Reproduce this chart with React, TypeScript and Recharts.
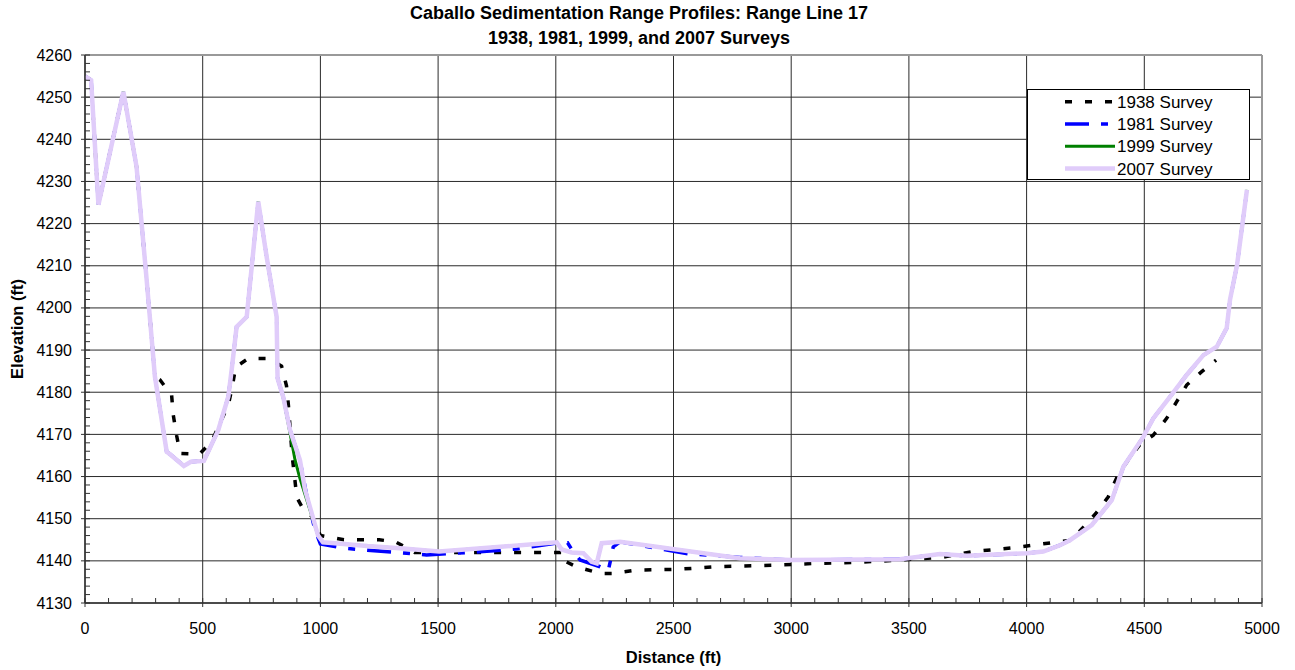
import { LineChart, Line, XAxis, YAxis, CartesianGrid, ReferenceLine, Legend } from "recharts"

// Range line 17 survey profiles: distance (ft) / elevation (ft)
const dist1938 = [0, 26, 57, 163, 219, 262, 297, 319, 368, 375, 389, 404, 486, 538, 609, 627, 640, 694, 779, 835, 856, 864, 880, 900, 925, 965, 1000, 1100, 1250, 1320, 1400, 2030, 2036, 2088, 2188, 2244, 2343, 2520, 2683, 2938, 3108, 3264, 3434, 3519, 3646, 3774, 3944, 4106, 4191, 4295, 4347, 4382, 4420, 4480, 4538, 4595, 4637, 4680, 4744, 4805]
const elev1938 = [4255, 4254, 4224.5, 4251.3, 4233.5, 4206.6, 4183.7, 4182.9, 4179.3, 4174.6, 4169.8, 4165.5, 4165.3, 4168.3, 4177, 4181.7, 4186, 4188, 4188, 4186.2, 4181.5, 4177, 4165, 4155, 4152.5, 4150.5, 4146, 4145, 4145, 4144.5, 4142, 4142, 4140, 4138.6, 4137, 4137, 4137.8, 4138, 4138.6, 4139, 4139.4, 4139.6, 4140.1, 4140.4, 4140.9, 4142.2, 4143.1, 4144.3, 4144.9, 4151.3, 4155.2, 4159.6, 4163, 4167.5, 4169.8, 4173.8, 4177.7, 4181.7, 4184.9, 4187.6]

const dist1981 = [0, 26, 57, 163, 219, 262, 297, 347, 361, 420, 450, 505, 566, 609, 623, 644, 687, 736, 772, 814, 818, 842, 871, 913, 940, 977, 1000, 1100, 1200, 1366, 1451, 1572, 1692, 1834, 2004, 2050, 2070, 2103, 2188, 2223, 2232, 2244, 2273, 2570, 2642, 2782, 3000, 3462, 3632, 3745, 4000, 4071, 4142, 4184, 4277, 4362, 4411, 4496, 4538, 4609, 4680, 4751, 4808, 4850, 4864, 4894, 4936]
const elev1981 = [4255, 4254, 4224.5, 4251.3, 4233.5, 4206.6, 4183.7, 4165.9, 4165.3, 4162.5, 4163.5, 4163.7, 4171, 4179, 4185.3, 4195.5, 4197.9, 4225.2, 4212, 4197.9, 4183.3, 4178.9, 4171, 4163.9, 4156, 4147.3, 4144, 4143, 4142.5, 4141.8, 4141.4, 4141.8, 4142.2, 4142.8, 4144.2, 4144.3, 4142.5, 4140.2, 4138.6, 4137.7, 4140, 4143.3, 4144.5, 4141.6, 4141.4, 4140.8, 4140.2, 4140.4, 4141.6, 4141.2, 4141.8, 4142.2, 4143.7, 4144.9, 4148.5, 4154.4, 4162.3, 4169.4, 4173.8, 4178.9, 4184.1, 4188.8, 4190.8, 4195.2, 4201.9, 4210.2, 4228]

const dist1999 = [0, 26, 57, 163, 219, 262, 297, 347, 361, 420, 450, 505, 566, 609, 623, 644, 687, 736, 772, 814, 818, 842, 892, 913, 969, 990, 1011, 1100, 1200, 1338, 1505, 2004, 2025, 2067, 2117, 2152, 2174, 2195, 2273, 2782, 3000, 3462, 3632, 3745, 4000, 4071, 4142, 4184, 4277, 4362, 4411, 4496, 4538, 4609, 4680, 4751, 4808, 4850, 4864, 4894, 4936]
const elev1999 = [4255, 4254, 4224.5, 4251.3, 4233.5, 4206.6, 4183.7, 4165.9, 4165.3, 4162.5, 4163.5, 4163.7, 4171, 4179, 4185.3, 4195.5, 4197.9, 4225.2, 4212, 4197.9, 4183.3, 4178.9, 4164, 4159.6, 4149.7, 4146, 4144.4, 4144, 4143.5, 4143, 4142.2, 4144.4, 4142.7, 4142, 4141.8, 4139.8, 4139.4, 4144.2, 4144.5, 4140.6, 4140.2, 4140.4, 4141.6, 4141.2, 4141.8, 4142.2, 4143.7, 4144.9, 4148.5, 4154.4, 4162.3, 4169.4, 4173.8, 4178.9, 4184.1, 4188.8, 4190.8, 4195.2, 4201.9, 4210.2, 4228]

const dist2007 = [0, 26, 57, 163, 219, 262, 297, 347, 361, 420, 450, 505, 566, 609, 623, 644, 687, 736, 772, 814, 818, 842, 871, 913, 935, 990, 1011, 1100, 1200, 1338, 1505, 2004, 2025, 2067, 2117, 2152, 2174, 2195, 2273, 2782, 3000, 3462, 3632, 3745, 4000, 4071, 4142, 4184, 4277, 4362, 4411, 4496, 4538, 4609, 4680, 4751, 4808, 4850, 4864, 4894, 4936]
const elev2007 = [4255, 4254, 4224.5, 4251.3, 4233.5, 4206.6, 4183.7, 4165.9, 4165.3, 4162.5, 4163.5, 4163.7, 4171, 4179, 4185.3, 4195.5, 4197.9, 4225.2, 4212, 4197.9, 4183.3, 4178.9, 4171, 4163.9, 4156.8, 4146, 4144.4, 4144, 4143.5, 4143, 4142.2, 4144.4, 4142.7, 4142, 4141.8, 4139.8, 4139.4, 4144.2, 4144.5, 4140.6, 4140.2, 4140.4, 4141.6, 4141.2, 4141.8, 4142.2, 4143.7, 4144.9, 4148.5, 4154.4, 4162.3, 4169.4, 4173.8, 4178.9, 4184.1, 4188.8, 4190.8, 4195.2, 4201.9, 4210.2, 4228]

const distMajor = [0, 500, 1000, 1500, 2000, 2500, 3000, 3500, 4000, 4500, 5000]
const elevMajor = [4130, 4140, 4150, 4160, 4170, 4180, 4190, 4200, 4210, 4220, 4230, 4240, 4250, 4260]
const DIST_MINOR = 100
const ELEV_MINOR = 2

const FONT = "Arial, 'Liberation Sans', sans-serif"

const zip = (xs: number[], ys: number[]) => xs.map((x, i) => ({ x, y: ys[i] }))

const steps = (from: number, to: number, step: number) => {
  const out: number[] = []
  for (let v = from; v <= to + 1e-9; v += step) out.push(Math.round(v * 100) / 100)
  return out
}

const series = [
  { name: "1938 Survey", data: zip(dist1938, elev1938), stroke: "#000000", width: 3.5, dash: "7 13" },
  { name: "1981 Survey", data: zip(dist1981, elev1981), stroke: "#0000FF", width: 3.5, dash: "24 12 7 12" },
  { name: "1999 Survey", data: zip(dist1999, elev1999), stroke: "#008000", width: 3, dash: undefined },
  { name: "2007 Survey", data: zip(dist2007, elev2007), stroke: "#E0CCFA", width: 4.5, dash: undefined },
]

function DistanceTick({ x, y, payload }: any) {
  const v = payload.value
  if (v % 500 !== 0) return <line x1={x} x2={x} y1={y} y2={y - 5} stroke="#333" strokeWidth={1} />
  return (
    <g>
      <line x1={x} x2={x} y1={y - 5} y2={y + 4} stroke="#333" strokeWidth={1} />
      <text x={x} y={y + 31} textAnchor="middle" fontSize={16} fill="#000" fontFamily={FONT}>
        {v}
      </text>
    </g>
  )
}

function ElevationTick({ x, y, payload }: any) {
  const v = payload.value
  if (v % 10 !== 0) return <line x1={x} x2={x + 5} y1={y} y2={y} stroke="#333" strokeWidth={1} />
  return (
    <g>
      <line x1={x - 4} x2={x + 5} y1={y} y2={y} stroke="#333" strokeWidth={1} />
      <text x={x - 13} y={y + 5.5} textAnchor="end" fontSize={16} fill="#000" fontFamily={FONT}>
        {v}
      </text>
    </g>
  )
}

function SurveyLegend() {
  return (
    <svg width={223} height={91} style={{ display: "block" }}>
      <rect x={0.5} y={0.5} width={222} height={90} fill="#fff" stroke="#000" strokeWidth={1} />
      {series.map((s, i) => {
        const cy = 12.7 + i * 22.3
        return (
          <g key={s.name}>
            <line
              x1={38}
              x2={88}
              y1={cy}
              y2={cy}
              stroke={s.stroke}
              strokeWidth={s.width}
              strokeDasharray={s.dash}
            />
            <text x={90} y={cy + 6} fontSize={17} fill="#000" fontFamily={FONT}>
              {s.name}
            </text>
          </g>
        )
      })}
    </svg>
  )
}

export default function App() {
  return (
    <div style={{ position: "absolute", left: 0, top: 0, width: 1295, height: 670, background: "#fff", fontFamily: FONT }}>
      <div
        style={{
          position: "absolute",
          left: 0,
          top: 1,
          width: 1278,
          textAlign: "center",
          fontWeight: "bold",
          fontSize: 18,
          lineHeight: "25px",
          color: "#000",
        }}
      >
        <div>Caballo Sedimentation Range Profiles: Range Line 17</div>
        <div>1938, 1981, 1999, and 2007 Surveys</div>
      </div>
      <LineChart width={1295} height={670} margin={{ top: 55, right: 33, bottom: 0, left: 0 }}>
        <CartesianGrid
          stroke="#2a2a2a"
          strokeWidth={1}
          horizontalValues={elevMajor}
          verticalValues={distMajor}
        />
        <XAxis
          type="number"
          dataKey="x"
          domain={[0, 5000]}
          ticks={steps(0, 5000, DIST_MINOR)}
          interval={0}
          tickSize={0}
          tickMargin={0}
          tickLine={false}
          tick={<DistanceTick />}
          height={67}
          axisLine={{ stroke: "#333", strokeWidth: 1.5 }}
          allowDataOverflow
          label={{
            value: "Distance (ft)",
            position: "insideBottom",
            offset: 7,
            style: { fontWeight: "bold", fontSize: 16.5, fill: "#000", fontFamily: FONT },
          }}
        />
        <YAxis
          type="number"
          domain={[4130, 4260]}
          ticks={steps(4130, 4260, ELEV_MINOR)}
          interval={0}
          tickSize={0}
          tickMargin={0}
          tickLine={false}
          tick={<ElevationTick />}
          width={85}
          axisLine={{ stroke: "#333", strokeWidth: 1.5 }}
          allowDataOverflow
          label={{
            value: "Elevation (ft)",
            angle: -90,
            position: "insideLeft",
            offset: 17,
            style: { fontWeight: "bold", fontSize: 16.5, fill: "#000", fontFamily: FONT, textAnchor: "middle" },
          }}
        />
        <ReferenceLine y={4260} stroke="#999" strokeWidth={2} />
        <ReferenceLine x={5000} stroke="#999" strokeWidth={2} />
        {series.map((s) => (
          <Line
            key={s.name}
            data={s.data}
            dataKey="y"
            name={s.name}
            type="linear"
            stroke={s.stroke}
            strokeWidth={s.width}
            strokeDasharray={s.dash}
            dot={false}
            activeDot={false}
            isAnimationActive={false}
          />
        ))}
        <Legend
          layout="horizontal"
          verticalAlign="middle"
          align="center"
          content={() => <SurveyLegend />}
          wrapperStyle={{ left: 1027, top: 89, width: 223, height: 91 }}
        />
      </LineChart>
    </div>
  )
}
